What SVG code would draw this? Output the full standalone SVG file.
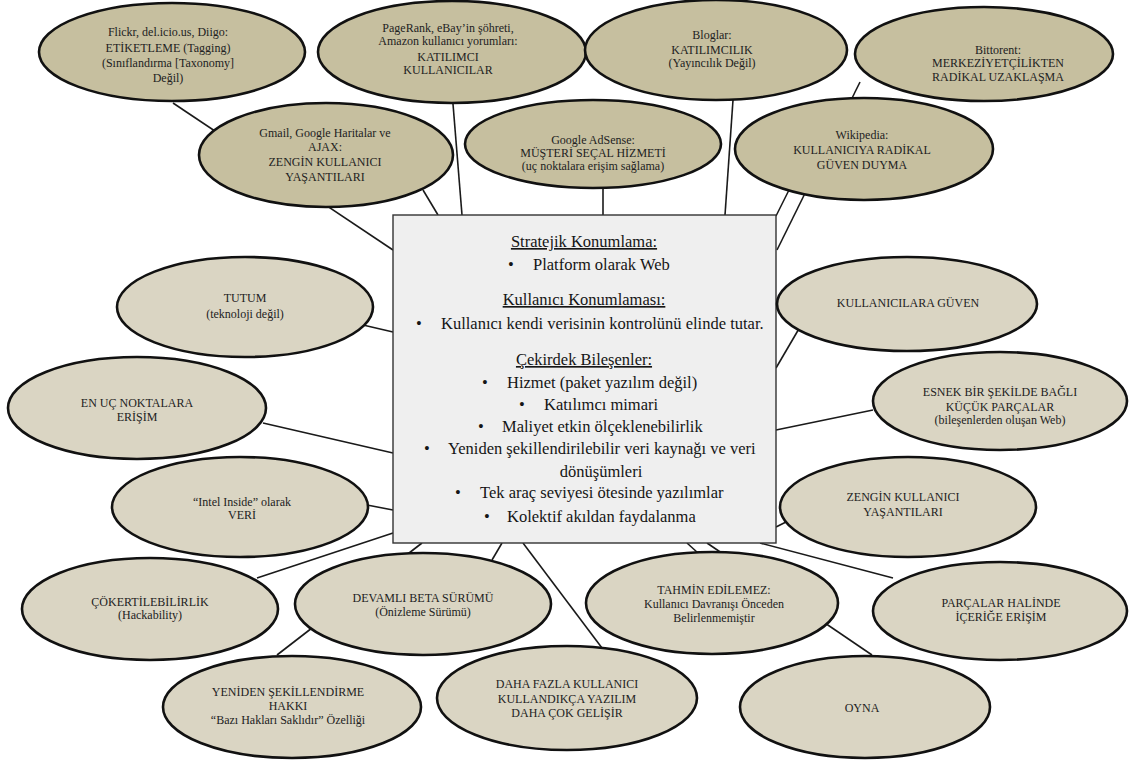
<svg xmlns="http://www.w3.org/2000/svg" width="1129" height="764" viewBox="0 0 1129 764">
<style>
.e1{fill:#c6bf9f;stroke:#111;stroke-width:2.6}
.e2{fill:#dad5c3;stroke:#111;stroke-width:2.6}
.t{font-family:"Liberation Serif","Times New Roman",serif;font-size:12px;fill:#222;text-anchor:middle}
.c line{stroke:#1a1a1a;stroke-width:1.6}
.box{fill:#efefef;stroke:#333;stroke-width:1.4}
.b{font-family:"Liberation Serif","Times New Roman",serif;font-size:16.5px;fill:#151515}
.h{text-anchor:middle;text-decoration:underline}
.m{text-anchor:middle}
</style>
<rect width="1129" height="764" fill="#fff"/>
<g id="connectors" class="c">
<line x1="173" y1="103" x2="393" y2="250"/>
<line x1="423" y1="190" x2="438" y2="215"/>
<line x1="453" y1="104" x2="462" y2="215"/>
<line x1="603" y1="187" x2="603" y2="215"/>
<line x1="733" y1="100" x2="725" y2="215"/>
<line x1="860" y1="82" x2="777" y2="250"/>
<line x1="790" y1="188" x2="776" y2="216"/>
<line x1="363" y1="325" x2="393" y2="332"/>
<line x1="263" y1="423" x2="393" y2="453"/>
<line x1="367" y1="505" x2="393" y2="510"/>
<line x1="257" y1="578" x2="393" y2="533"/>
<line x1="277" y1="655" x2="422" y2="543"/>
<line x1="492" y1="560" x2="502" y2="543"/>
<line x1="523" y1="543" x2="602" y2="648"/>
<line x1="687" y1="543" x2="698" y2="553"/>
<line x1="707" y1="543" x2="872" y2="655"/>
<line x1="776" y1="527" x2="790" y2="520"/>
<line x1="760" y1="543" x2="893" y2="578"/>
<line x1="776" y1="430" x2="873" y2="410"/>
<line x1="776" y1="368" x2="800" y2="327"/>
</g>
<g id="center">
<rect class="box" x="393" y="215" width="383" height="328"/>
<text class="b h" x="584" y="247">Stratejik Konumlama:</text>
<text class="b" x="508" y="270">•</text><text class="b" x="533" y="270">Platform olarak Web</text>
<text class="b h" x="584" y="305">Kullanıcı Konumlaması:</text>
<text class="b" x="416" y="329">•</text><text class="b" x="441" y="329">Kullanıcı kendi verisinin kontrolünü elinde tutar.</text>
<text class="b h" x="584" y="365">Çekirdek Bileşenler:</text>
<text class="b" x="482" y="388">•</text><text class="b" x="507" y="388">Hizmet (paket yazılım değil)</text>
<text class="b" x="519" y="410">•</text><text class="b" x="544" y="410">Katılımcı mimari</text>
<text class="b" x="478" y="432">•</text><text class="b" x="502" y="432">Maliyet etkin ölçeklenebilirlik</text>
<text class="b" x="424" y="454">•</text><text class="b" x="448" y="454">Yeniden şekillendirilebilir veri kaynağı ve veri</text>
<text class="b m" x="601" y="477">dönüşümleri</text>
<text class="b" x="455" y="498">•</text><text class="b" x="480" y="498">Tek araç seviyesi ötesinde yazılımlar</text>
<text class="b" x="484" y="522">•</text><text class="b" x="507" y="522">Kolektif akıldan faydalanma</text>
</g>
<g id="n-flickr">
<ellipse class="e1" cx="172" cy="52" rx="133" ry="49"/>
<text class="t" x="168" y="36">Flickr, del.icio.us, Diigo:</text>
<text class="t" x="168" y="52">ETİKETLEME (Tagging)</text>
<text class="t" x="168" y="67">(Sınıflandırma [Taxonomy]</text>
<text class="t" x="168" y="82">Değil)</text>
</g>
<g id="n-pagerank">
<ellipse class="e1" cx="452" cy="52" rx="134" ry="51"/>
<text class="t" x="448" y="32">PageRank, eBay’in şöhreti,</text>
<text class="t" x="448" y="45">Amazon kullanıcı yorumları:</text>
<text class="t" x="448" y="61">KATILIMCI</text>
<text class="t" x="448" y="74">KULLANICILAR</text>
</g>
<g id="n-bloglar">
<ellipse class="e1" cx="716" cy="50" rx="131" ry="50"/>
<text class="t" x="712" y="39">Bloglar:</text>
<text class="t" x="712" y="54">KATILIMCILIK</text>
<text class="t" x="712" y="67">(Yayıncılık Değil)</text>
</g>
<g id="n-bittorent">
<ellipse class="e1" cx="984" cy="54" rx="129" ry="47"/>
<text class="t" x="998" y="54">Bittorent:</text>
<text class="t" x="998" y="67">MERKEZİYETÇİLİKTEN</text>
<text class="t" x="998" y="81">RADİKAL UZAKLAŞMA</text>
</g>
<g id="n-gmail">
<ellipse class="e1" cx="326" cy="155" rx="127" ry="52"/>
<text class="t" x="325" y="137">Gmail, Google Haritalar ve</text>
<text class="t" x="325" y="151">AJAX:</text>
<text class="t" x="325" y="166">ZENGİN KULLANICI</text>
<text class="t" x="325" y="181">YAŞANTILARI</text>
</g>
<g id="n-adsense">
<ellipse class="e1" cx="593" cy="144" rx="128" ry="44"/>
<text class="t" x="593" y="144">Google AdSense:</text>
<text class="t" x="593" y="157">MÜŞTERİ SEÇAL HİZMETİ</text>
<text class="t" x="593" y="170">(uç noktalara erişim sağlama)</text>
</g>
<g id="n-wikipedia">
<ellipse class="e1" cx="864" cy="149" rx="129" ry="51"/>
<text class="t" x="862" y="139">Wikipedia:</text>
<text class="t" x="862" y="154">KULLANICIYA RADİKAL</text>
<text class="t" x="862" y="169">GÜVEN DUYMA</text>
</g>
<g id="n-tutum">
<ellipse class="e2" cx="245" cy="307" rx="128" ry="50"/>
<text class="t" x="245" y="302">TUTUM</text>
<text class="t" x="245" y="318">(teknoloji değil)</text>
</g>
<g id="n-enuc">
<ellipse class="e2" cx="137" cy="408" rx="129" ry="51"/>
<text class="t" x="137" y="407">EN UÇ NOKTALARA</text>
<text class="t" x="137" y="421">ERİŞİM</text>
</g>
<g id="n-intel">
<ellipse class="e2" cx="240" cy="507" rx="128" ry="50"/>
<text class="t" x="242" y="506">“Intel Inside” olarak</text>
<text class="t" x="242" y="519">VERİ</text>
</g>
<g id="n-hack">
<ellipse class="e2" cx="150" cy="609" rx="128" ry="51"/>
<text class="t" x="150" y="606">ÇÖKERTİLEBİLİRLİK</text>
<text class="t" x="150" y="619">(Hackability)</text>
</g>
<g id="n-beta">
<ellipse class="e2" cx="423" cy="604" rx="128" ry="51"/>
<text class="t" x="423" y="602">DEVAMLI BETA SÜRÜMÜ</text>
<text class="t" x="423" y="616">(Önizleme Sürümü)</text>
</g>
<g id="n-yeniden">
<ellipse class="e2" cx="292" cy="707" rx="129" ry="51"/>
<text class="t" x="288" y="696">YENİDEN ŞEKİLLENDİRME</text>
<text class="t" x="288" y="710">HAKKI</text>
<text class="t" x="288" y="724">“Bazı Hakları Saklıdır” Özelliği</text>
</g>
<g id="n-dahafazla">
<ellipse class="e2" cx="567" cy="698" rx="130" ry="52"/>
<text class="t" x="567" y="688">DAHA FAZLA KULLANICI</text>
<text class="t" x="567" y="703">KULLANDIKÇA YAZILIM</text>
<text class="t" x="567" y="717">DAHA ÇOK GELİŞİR</text>
</g>
<g id="n-tahmin">
<ellipse class="e2" cx="712" cy="603" rx="126" ry="51"/>
<text class="t" x="714" y="594">TAHMİN EDİLEMEZ:</text>
<text class="t" x="714" y="608">Kullanıcı Davranışı Önceden</text>
<text class="t" x="714" y="622">Belirlenmemiştir</text>
</g>
<g id="n-oyna">
<ellipse class="e2" cx="865" cy="707" rx="125" ry="51"/>
<text class="t" x="862" y="712">OYNA</text>
</g>
<g id="n-parcalar">
<ellipse class="e2" cx="1000" cy="611" rx="127" ry="49"/>
<text class="t" x="1001" y="607">PARÇALAR HALİNDE</text>
<text class="t" x="1001" y="621">İÇERİĞE ERİŞİM</text>
</g>
<g id="n-zengin">
<ellipse class="e2" cx="908" cy="507" rx="128" ry="50"/>
<text class="t" x="903" y="501">ZENGİN KULLANICI</text>
<text class="t" x="903" y="516">YAŞANTILARI</text>
</g>
<g id="n-esnek">
<ellipse class="e2" cx="1000" cy="401" rx="127" ry="49"/>
<text class="t" x="1000" y="396">ESNEK BİR ŞEKİLDE BAĞLI</text>
<text class="t" x="1000" y="411">KÜÇÜK PARÇALAR</text>
<text class="t" x="1000" y="424">(bileşenlerden oluşan Web)</text>
</g>
<g id="n-guven">
<ellipse class="e2" cx="907" cy="304" rx="130" ry="47"/>
<text class="t" x="908" y="307">KULLANICILARA GÜVEN</text>
</g>
</svg>
